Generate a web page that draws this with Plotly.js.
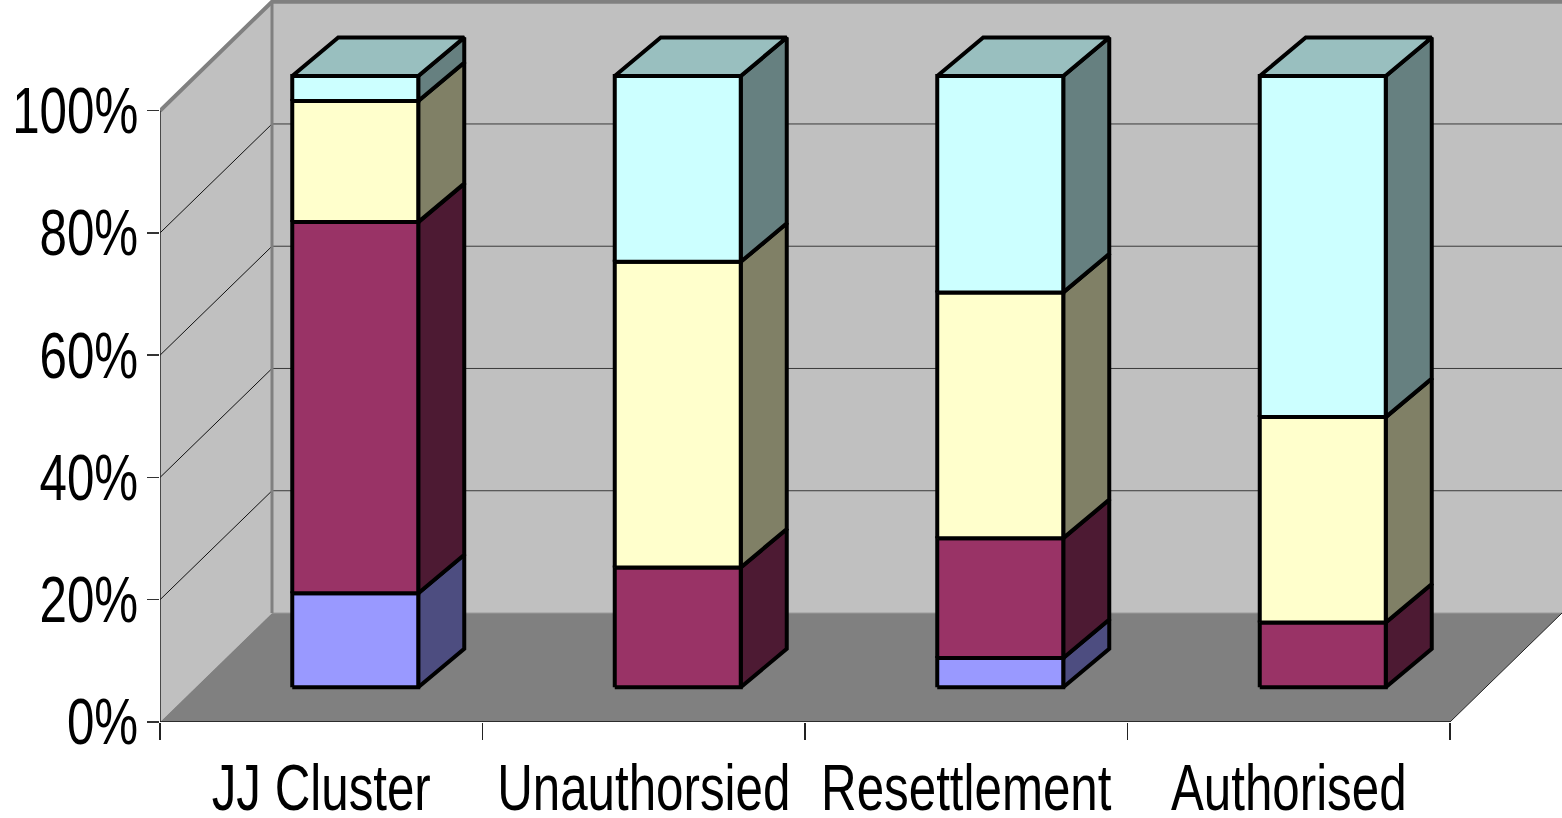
<!DOCTYPE html>
<html>
<head>
<meta charset="utf-8">
<script src="https://cdn.plot.ly/plotly-3.0.1.min.js"></script>
<style>
  html, body { margin: 0; padding: 0; background: #ffffff; }
  #chart { width: 1562px; height: 818px; }
</style>
</head>
<body>
<div id="chart"></div>
<script>
// Share of each group per settlement type (percent of total, stacked bottom to top)
const categories = ['JJ Cluster', 'Unauthorsied', 'Resettlement', 'Authorised'];
const seriesBlue   = [15.4, 0.0, 4.8, 0.0];
const seriesMaroon = [60.7, 19.6, 19.6, 10.6];
const seriesYellow = [19.8, 50.0, 40.2, 33.6];
const seriesCyan   = [4.1, 30.4, 35.4, 55.8];
const yTickVals = [0, 20, 40, 60, 80, 100];
const yTickText = ['0%', '20%', '40%', '60%', '80%', '100%'];

// Stacking order with face colours (front, side, top)
const stackSeries = [
  { values: seriesBlue,   front: '#9999FF', side: '#4D4D80', top: '#7373BF' },
  { values: seriesMaroon, front: '#993366', side: '#4D1A33', top: '#73264D' },
  { values: seriesYellow, front: '#FFFFCC', side: '#808066', top: '#BFBF99' },
  { values: seriesCyan,   front: '#CCFFFF', side: '#668080', top: '#99BFBF' }
];

// ---- geometry of the oblique 3-D box ----
const W = 1562, H = 818;
const M = { l: 160, r: 0, t: 0, b: 96 };
const plotW = W - M.l - M.r, plotH = H - M.t - M.b;
const pxPerCat = 322.5;          // horizontal pixels per category slot
const pxPerPct = 6.113;          // vertical pixels per percentage point
const xMax = plotW / pxPerCat;
const yMax = plotH / pxPerPct;
const nCat = categories.length;

// depth offsets (converted from pixels to axis units)
const wall = { dx: 112 / pxPerCat, dy: 109 / pxPerPct };
const barFront = { dx: 34 / pxPerCat, dy: 34.7 / pxPerPct };
const barBack  = { dx: 80 / pxPerCat, dy: 73.2 / pxPerPct };
const barHalf = 0.5 * 126 / pxPerCat;
const barLine = 4;

const traces = [];
function poly(xs, ys, fill, lineColor, lineWidth) {
  traces.push({
    type: 'scatter', mode: lineWidth > 0 ? 'lines' : 'none',
    x: xs.concat([xs[0]]), y: ys.concat([ys[0]]),
    fill: 'toself', fillcolor: fill,
    line: { color: lineColor, width: lineWidth },
    hoverinfo: 'skip', showlegend: false
  });
}
function seg(xs, ys, color, width) {
  traces.push({
    type: 'scatter', mode: 'lines', x: xs, y: ys,
    line: { color: color, width: width },
    hoverinfo: 'skip', showlegend: false
  });
}

// walls and floor
poly([0, 0, wall.dx, wall.dx], [0, 100, 100 + wall.dy, wall.dy], '#C0C0C0', 'rgba(0,0,0,0)', 0);
poly([wall.dx, wall.dx, nCat + wall.dx, nCat + wall.dx], [wall.dy, 100 + wall.dy, 100 + wall.dy, wall.dy], '#C0C0C0', 'rgba(0,0,0,0)', 0);
poly([0, wall.dx, nCat + wall.dx, nCat], [0, wall.dy, wall.dy, 0], '#808080', 'rgba(0,0,0,0)', 0);

// gridlines: horizontal on back wall, diagonal on side wall
yTickVals.forEach(v => {
  if (v > 0 && v < 100) {
    seg([wall.dx, nCat + wall.dx], [v + wall.dy, v + wall.dy], '#3a3a3a', 1);
    seg([0, wall.dx], [v, v + wall.dy], '#111111', 1);
  }
});
seg([wall.dx, nCat + wall.dx], [wall.dy, wall.dy], '#9a9a9a', 1);

// wall edges
seg([wall.dx, wall.dx], [wall.dy, 100 + wall.dy], '#808080', 3);
seg([0, wall.dx, nCat + wall.dx], [100, 100 + wall.dy, 100 + wall.dy], '#808080', 4);
seg([nCat, nCat + wall.dx], [0, wall.dy], '#222222', 1);

// axis lines along the front edge
seg([0, 0], [0, 100], '#222222', 1.5);
seg([0, nCat], [0, 0], '#111111', 1.5);

// stacked 3-D bars
for (let i = 0; i < nCat; i++) {
  const c = i + 0.5;
  const xl = c - barHalf, xr = c + barHalf;
  let base = 0;
  const segs = [];
  stackSeries.forEach(s => {
    const v = s.values[i];
    if (v > 0) { segs.push({ lo: base, hi: base + v, s: s }); base += v; }
  });
  segs.forEach((g, k) => {
    const f = barFront, b = barBack;
    // side face
    poly([xr + f.dx, xr + b.dx, xr + b.dx, xr + f.dx],
         [g.lo + f.dy, g.lo + b.dy, g.hi + b.dy, g.hi + f.dy],
         g.s.side, '#000000', barLine);
    // front face
    poly([xl + f.dx, xr + f.dx, xr + f.dx, xl + f.dx],
         [g.lo + f.dy, g.lo + f.dy, g.hi + f.dy, g.hi + f.dy],
         g.s.front, '#000000', barLine);
    // top face of the highest segment
    if (k === segs.length - 1) {
      poly([xl + f.dx, xl + b.dx, xr + b.dx, xr + f.dx],
           [g.hi + f.dy, g.hi + b.dy, g.hi + b.dy, g.hi + f.dy],
           g.s.top, '#000000', barLine);
    }
  });
}

const fontFamily = "'Liberation Sans', Arial, sans-serif";
const labelSize = 64;
const narrowScale = 0.77;   // condensed look for the axis labels

const layout = {
  width: W, height: H,
  margin: M,
  paper_bgcolor: '#ffffff', plot_bgcolor: '#ffffff',
  showlegend: false,
  hovermode: false,
  font: { family: fontFamily, color: '#000000', size: labelSize },
  xaxis: {
    range: [0, xMax], fixedrange: true,
    showgrid: false, zeroline: false, showline: false,
    tickmode: 'array',
    tickvals: categories.map((_, i) => i + 0.5),
    ticktext: categories,
    tickangle: 0,
    ticks: '',
    ticklabelstandoff: 23,
    tickfont: { family: fontFamily, size: labelSize, color: '#000000' },
    minor: {
      tickmode: 'array',
      tickvals: categories.map((_, i) => i).concat([nCat]),
      ticks: 'outside', ticklen: 17, tickwidth: 1.5, tickcolor: '#222222',
      showgrid: false
    }
  },
  yaxis: {
    range: [0, yMax], fixedrange: true,
    showgrid: false, zeroline: false, showline: false,
    tickmode: 'array', tickvals: yTickVals, ticktext: yTickText,
    ticks: 'outside', ticklen: 12, tickwidth: 1.5, tickcolor: '#333333',
    ticklabelstandoff: -4,
    tickfont: { family: fontFamily, size: labelSize, color: '#000000' }
  }
};

// narrow the tick label glyphs horizontally, keeping each label's anchor in place
function narrowLabels(gd) {
  gd.querySelectorAll('g.xtick text, g.ytick text').forEach(t => {
    if (t.dataset.narrowed) return;
    const bb = t.getBBox();
    const isY = t.closest('g.ytick') !== null;
    const ax = isY ? bb.x + bb.width : bb.x + bb.width / 2;
    const prev = t.getAttribute('transform') || '';
    t.setAttribute('transform',
      prev + ' translate(' + ax + ',0) scale(' + narrowScale + ',1) translate(' + (-ax) + ',0)');
    t.dataset.narrowed = '1';
  });
}

Plotly.newPlot('chart', traces, layout, { staticPlot: true, displayModeBar: false })
  .then(gd => narrowLabels(gd));
</script>
</body>
</html>
